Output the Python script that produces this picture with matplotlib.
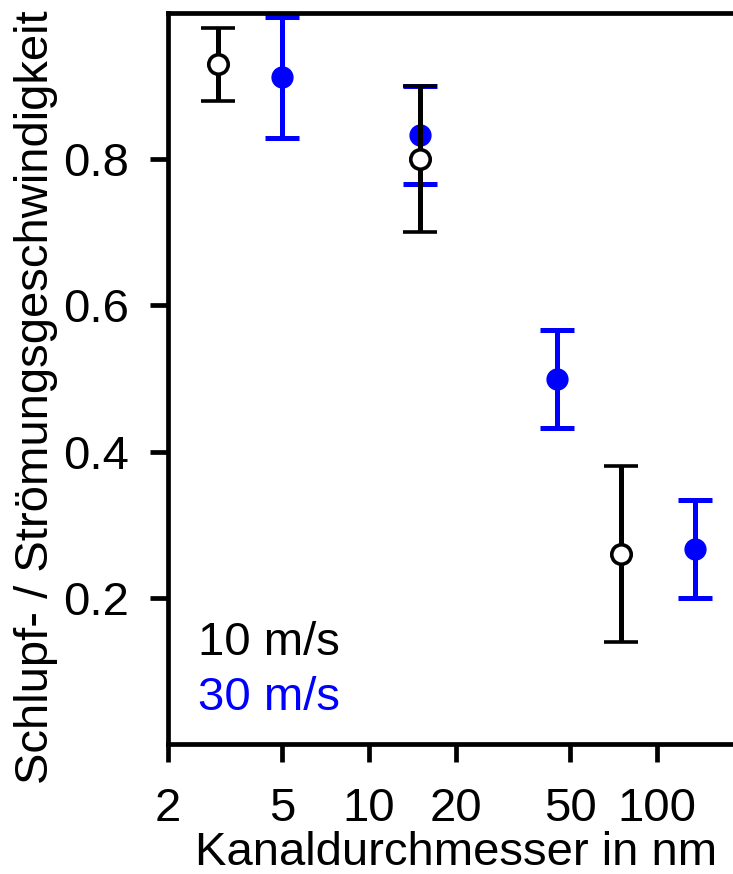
import matplotlib
matplotlib.use('Agg')
import matplotlib.pyplot as plt
from matplotlib.ticker import FixedLocator, FixedFormatter, NullLocator

plt.rcParams['font.family'] = ['Liberation Sans', 'DejaVu Sans']

# 10 m/s series (open circles)
d10 = [3, 15, 75]
v10 = [0.93, 0.80, 0.26]
e10 = [0.05, 0.10, 0.12]

# 30 m/s series (filled blue)
d30 = [5, 15, 45, 135]
v30 = [0.912, 0.833, 0.50, 0.267]
e30 = [0.083, 0.067, 0.067, 0.067]

xticks = [2, 5, 10, 20, 50, 100]
yticks = [0.2, 0.4, 0.6, 0.8]

fig = plt.figure(figsize=(7.33, 8.74), dpi=100)
ax = fig.add_axes([0.2287, 0.1487, 0.786, 0.8364])

ax.errorbar(d30, v30, yerr=e30, fmt='o', color='blue', ms=15,
            elinewidth=3.6, capsize=12, capthick=3.6, zorder=2)
ax.errorbar(d10, v10, yerr=e10, fmt='o', color='black', mfc='white',
            mec='black', mew=2.6, ms=14, elinewidth=3.6, capsize=12,
            capthick=3.6, zorder=3)

ax.set_xscale('log')
ax.set_xlim(2, 200)
ax.set_ylim(0, 1)
ax.xaxis.set_major_locator(FixedLocator(xticks))
ax.xaxis.set_major_formatter(FixedFormatter([str(t) for t in xticks]))
ax.xaxis.set_minor_locator(NullLocator())
ax.set_yticks(yticks)
ax.set_yticklabels([f'{t:.1f}' for t in yticks])

for s in ['left', 'bottom', 'top']:
    ax.spines[s].set_linewidth(3.4)
ax.spines['right'].set_visible(False)

ax.tick_params(axis='both', labelsize=34, width=3.4, length=13, direction='out')
ax.tick_params(axis='x', pad=18)
ax.tick_params(axis='y', pad=15)

ax.set_xlabel('Kanaldurchmesser in nm', fontsize=34, labelpad=0)
ax.set_ylabel('Schlupf- / Strömungsgeschwindigkeit', fontsize=34)
ax.yaxis.set_label_coords(-0.19, 0.475)

ax.text(0.053, 0.122, '10 m/s', transform=ax.transAxes, fontsize=34, color='black')
ax.text(0.053, 0.047, '30 m/s', transform=ax.transAxes, fontsize=34, color='blue')

fig.savefig('out.png', dpi=100, facecolor='white')
